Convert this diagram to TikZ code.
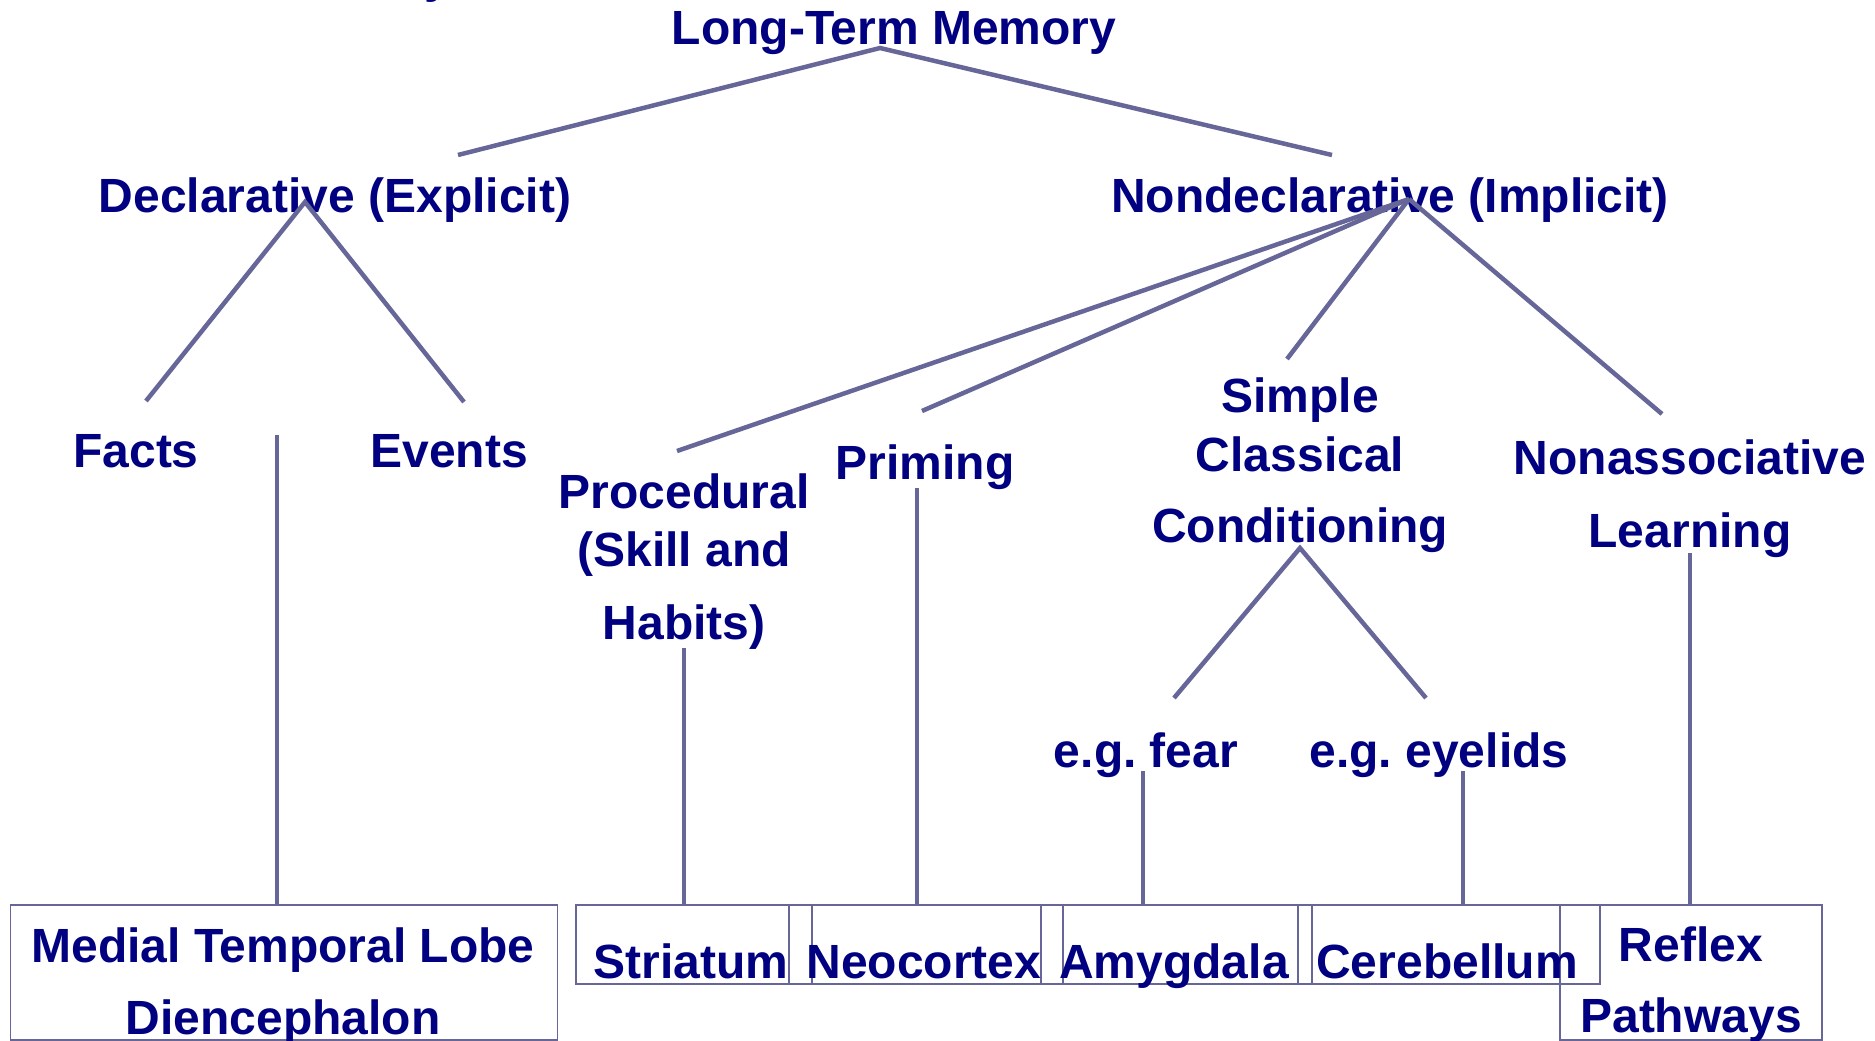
\documentclass[tikz,border=0pt]{standalone}
\usepackage{fontspec}
\setmainfont{Liberation Sans}
\frenchspacing
\definecolor{navytxt}{HTML}{000080}
\definecolor{linec}{HTML}{666699}
\tikzset{
  lbl/.style={anchor=base, inner sep=0pt, text=navytxt, align=center,
    font=\fontsize{48}{58}\selectfont\bfseries},
  conn/.style={draw=linec, line width=4.5pt, line cap=butt, line join=miter},
  regionbox/.style={draw=linec, line width=1.6pt, inner sep=0pt, anchor=north west}
}
\begin{document}
\begin{tikzpicture}[x=1pt,y=-1pt]
\useasboundingbox (0,0) rectangle (1875,1041);
% cut-off title fragment
\node[lbl] (frag) at (438,-7) {y};
% labels (multi-line labels are placed by the baseline of their last line)
\node[lbl] (ltm) at (894,45) {Long-Term Memory};
\node[lbl] (decl) at (335,212) {Declarative (Explicit)};
\node[lbl] (nondecl) at (1390,212) {Nondeclarative (Implicit)};
\node[lbl] (facts) at (136,467) {Facts};
\node[lbl] (events) at (449,467) {Events};
\node[lbl] (proc) at (684,639) {Procedural\\(Skill and\\[15pt]Habits)};
\node[lbl] (priming) at (925,479) {Priming};
\node[lbl] (simple) at (1300,542) {Simple\\[1pt]Classical\\[13pt]Conditioning};
\node[lbl] (nonassoc) at (1690,547) {Nonassociative\\[15pt]Learning};
\node[lbl] (fear) at (1146,767) {e.g. fear};
\node[lbl] (eyelids) at (1439,767) {e.g. eyelids};
% boxes
\node[regionbox, minimum width=547pt, minimum height=135pt] (mtlbox) at (9.5,904) {};
\node[regionbox, minimum width=236pt, minimum height=79pt] (strbox) at (575,904) {};
\node[regionbox, minimum width=274pt, minimum height=79pt] (neobox) at (788,904) {};
\node[regionbox, minimum width=271pt, minimum height=79pt] (amybox) at (1040,904) {};
\node[regionbox, minimum width=302pt, minimum height=79pt] (cerbox) at (1297,904) {};
\node[regionbox, minimum width=262pt, minimum height=135pt] (refbox) at (1559,904) {};
\node[lbl] (mtl) at (283,1034) {Medial Temporal Lobe\\[14pt]Diencephalon};
\node[lbl] (striatum) at (691,978) {Striatum};
\node[lbl] (neocortex) at (924,978) {Neocortex};
\node[lbl] (amygdala) at (1174,978) {Amygdala};
\node[lbl] (cerebellum) at (1447,978) {Cerebellum};
\node[lbl] (reflex) at (1691,1032) {Reflex\\[13pt]Pathways};
% connector end points
\coordinate (ltmA) at (880,48);
\coordinate (declT) at (458,155);
\coordinate (nondeclT) at (1332,155);
\coordinate (declA) at (305,202);
\coordinate (factsT) at (146,401);
\coordinate (eventsT) at (464,402);
\coordinate (mtlT) at (277,435);
\coordinate (nondeclA) at (1409,199);
\coordinate (procT) at (677,451);
\coordinate (primT) at (922,411);
\coordinate (simpleT) at (1287,359);
\coordinate (nonassocT) at (1662,414);
\coordinate (procB) at (684,648);
\coordinate (primB) at (917,488);
\coordinate (condA) at (1300,548);
\coordinate (fearT) at (1174,698);
\coordinate (eyeT) at (1426,698);
\coordinate (fearB) at (1143,771);
\coordinate (eyeB) at (1463,771);
\coordinate (nonassocB) at (1690,553);
% connectors
\draw[conn] (declT) -- (ltmA) -- (nondeclT);
\draw[conn] (factsT) -- (declA) -- (eventsT);
\draw[conn] (mtlT) -- (mtlT |- mtlbox.north);
\draw[conn] (nondeclA) -- (procT);
\draw[conn] (nondeclA) -- (primT);
\draw[conn] (nondeclA) -- (simpleT);
\draw[conn] (nondeclA) -- (nonassocT);
\draw[conn] (procB) -- (procB |- strbox.north);
\draw[conn] (primB) -- (primB |- neobox.north);
\draw[conn] (fearT) -- (condA) -- (eyeT);
\draw[conn] (fearB) -- (fearB |- amybox.north);
\draw[conn] (eyeB) -- (eyeB |- cerbox.north);
\draw[conn] (nonassocB) -- (nonassocB |- refbox.north);
\end{tikzpicture}
\end{document}
